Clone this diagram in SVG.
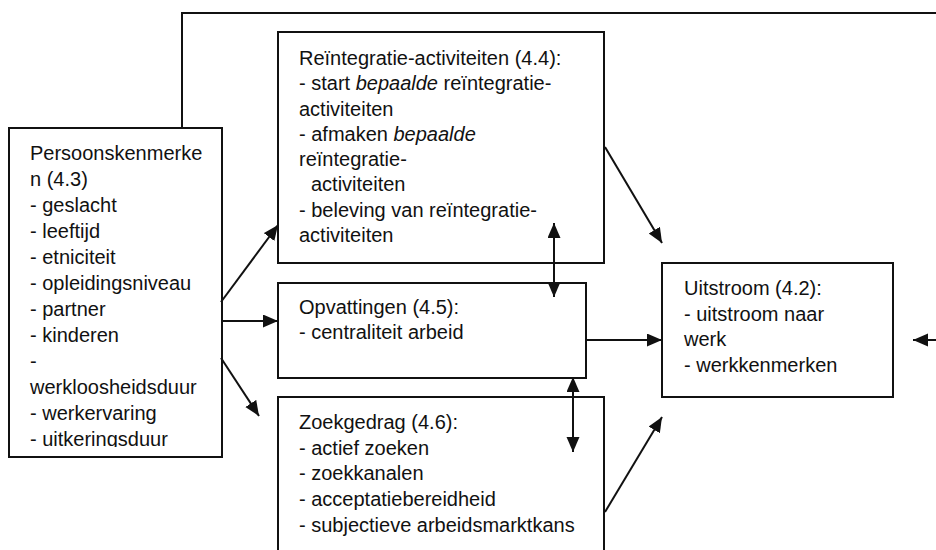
<svg xmlns="http://www.w3.org/2000/svg" width="936" height="550" viewBox="0 0 936 550">
<style>
.box{fill:#fff;stroke:#111;stroke-width:2}
.t{font-family:"Liberation Sans",Arial,sans-serif;font-size:20px;fill:#111}
.it{font-style:italic}
.c{fill:none;stroke:#111;stroke-width:2}
</style>
<defs>
<marker id="ah" markerUnits="userSpaceOnUse" markerWidth="16" markerHeight="14" refX="15" refY="6.5" orient="auto-start-reverse">
<path d="M0,0 L15,6.5 L0,13 z" fill="#111"/>
</marker>
<clipPath id="clipL"><rect x="9" y="128" width="213" height="319"/></clipPath>
</defs>
<rect width="936" height="550" fill="#fff"/>
<g id="persoonskenmerken">
<rect class="box" x="9" y="128" width="213" height="329"/>
<g clip-path="url(#clipL)">
<text class="t" x="30" y="160">Persoonskenmerke</text>
<text class="t" x="30" y="186">n (4.3)</text>
<text class="t" x="30" y="212">- geslacht</text>
<text class="t" x="30" y="238">- leeftijd</text>
<text class="t" x="30" y="263.5">- etniciteit</text>
<text class="t" x="30" y="289.5">- opleidingsniveau</text>
<text class="t" x="30" y="315.5">- partner</text>
<text class="t" x="30" y="341.5">- kinderen</text>
<text class="t" x="30" y="367.5">-</text>
<text class="t" x="30" y="393.5">werkloosheidsduur</text>
<text class="t" x="30" y="419.5">- werkervaring</text>
<text class="t" x="30" y="445.5">- uitkeringsduur</text>
</g>
</g>
<g id="reintegratie">
<rect class="box" x="278" y="32" width="326" height="231"/>
<text class="t" x="299" y="65">Reïntegratie-activiteiten (4.4):</text>
<text class="t" x="299" y="90">- start <tspan class="it">bepaalde</tspan> reïntegratie-</text>
<text class="t" x="299" y="115.5">activiteiten</text>
<text class="t" x="299" y="140.5">- afmaken <tspan class="it">bepaalde</tspan></text>
<text class="t" x="299" y="165.5">reïntegratie-</text>
<text class="t" x="311" y="191">activiteiten</text>
<text class="t" x="299" y="216.5">- beleving van reïntegratie-</text>
<text class="t" x="299" y="241.5">activiteiten</text>
</g>
<g id="opvattingen">
<rect class="box" x="278" y="283" width="308" height="95"/>
<text class="t" x="299" y="313.5">Opvattingen (4.5):</text>
<text class="t" x="299" y="339">- centraliteit arbeid</text>
</g>
<g id="zoekgedrag">
<rect class="box" x="278" y="397" width="326" height="170"/>
<text class="t" x="299" y="428.5">Zoekgedrag (4.6):</text>
<text class="t" x="299" y="454.5">- actief zoeken</text>
<text class="t" x="299" y="480">- zoekkanalen</text>
<text class="t" x="299" y="506">- acceptatiebereidheid</text>
<text class="t" x="299" y="531.5">- subjectieve arbeidsmarktkans</text>
</g>
<g id="uitstroom">
<rect class="box" x="662" y="263" width="231" height="134"/>
<text class="t" x="684" y="295">Uitstroom (4.2):</text>
<text class="t" x="684" y="320.5">- uitstroom naar</text>
<text class="t" x="684" y="346">werk</text>
<text class="t" x="684" y="371.5">- werkkenmerken</text>
</g>
<g id="connectors">
<path class="c" d="M182,127 V13 H936"/>
<line class="c" x1="221" y1="302" x2="278" y2="225" marker-end="url(#ah)"/>
<line class="c" x1="221" y1="321" x2="278" y2="321" marker-end="url(#ah)"/>
<line class="c" x1="221" y1="358" x2="259" y2="416" marker-end="url(#ah)"/>
<line class="c" x1="605" y1="147" x2="662" y2="243" marker-end="url(#ah)"/>
<line class="c" x1="554" y1="223" x2="554" y2="297" marker-start="url(#ah)" marker-end="url(#ah)"/>
<line class="c" x1="573" y1="377" x2="573" y2="452" marker-start="url(#ah)" marker-end="url(#ah)"/>
<line class="c" x1="587" y1="340" x2="662" y2="340" marker-end="url(#ah)"/>
<line class="c" x1="605" y1="512" x2="662" y2="417" marker-end="url(#ah)"/>
<line class="c" x1="936" y1="340" x2="913" y2="340" marker-end="url(#ah)"/>
</g>
</svg>
